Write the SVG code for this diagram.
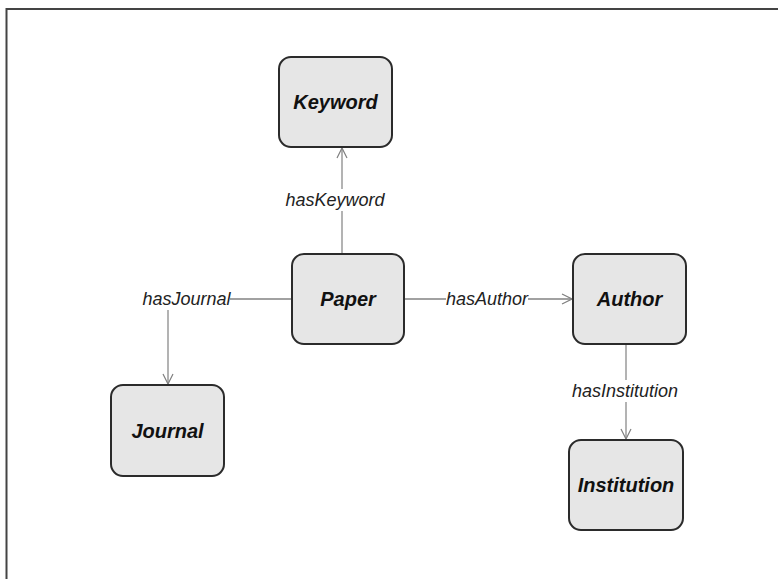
<svg xmlns="http://www.w3.org/2000/svg" width="778" height="579" viewBox="0 0 778 579">
  <style>
    .node rect { fill: #e6e6e6; stroke: #2b2b2b; stroke-width: 2; }
    .node text { font-family: "Liberation Sans", Arial, sans-serif; font-size: 20px; font-weight: bold; font-style: italic; fill: #111; text-anchor: middle; dominant-baseline: central; }
    .edge { fill: none; stroke: #808080; stroke-width: 1.2; }
    .edge.dark { stroke: #444; }
    .label { font-family: "Liberation Sans", Arial, sans-serif; font-size: 18px; font-style: italic; fill: #222; text-anchor: middle; dominant-baseline: central; }
  </style>
  <defs>
    <marker id="open-arrow" viewBox="0 0 12 12" refX="11" refY="6" markerWidth="12" markerHeight="12" markerUnits="userSpaceOnUse" orient="auto">
      <path d="M1,1 L11,6 L1,11" fill="none" stroke="#808080" stroke-width="1.2"/>
    </marker>
  </defs>

  <rect x="0" y="0" width="778" height="579" fill="#ffffff"/>
  <!-- frame: top and left edges -->
  <path d="M6.5,579 V9 H778" fill="none" stroke="#444" stroke-width="2"/>

  <g id="connectors">
    <!-- hasKeyword -->
    <path class="edge" d="M342,254 V211"/>
    <path class="edge" d="M342,189 V148" marker-end="url(#open-arrow)"/>
    <text class="label" x="335" y="200">hasKeyword</text>
    <!-- hasJournal -->
    <path class="edge dark" d="M292,299 H230"/>
    <path class="edge" d="M168,310 V384" marker-end="url(#open-arrow)"/>
    <text class="label" x="186.5" y="299">hasJournal</text>
    <!-- hasAuthor -->
    <path class="edge dark" d="M404,299 H446"/>
    <path class="edge dark" d="M528,299 H572" marker-end="url(#open-arrow)"/>
    <text class="label" x="487" y="299">hasAuthor</text>
    <!-- hasInstitution -->
    <path class="edge" d="M626,344 V380"/>
    <path class="edge" d="M626,402 V439" marker-end="url(#open-arrow)"/>
    <text class="label" x="625" y="391">hasInstitution</text>
  </g>

  <g id="node-keyword" class="node">
    <rect x="279" y="57" width="113" height="90" rx="12"/>
    <text x="335.5" y="102">Keyword</text>
  </g>
  <g id="node-paper" class="node">
    <rect x="292" y="254" width="112" height="90" rx="12"/>
    <text x="348" y="299">Paper</text>
  </g>
  <g id="node-author" class="node">
    <rect x="573" y="254" width="113" height="90" rx="12"/>
    <text x="629.5" y="299">Author</text>
  </g>
  <g id="node-journal" class="node">
    <rect x="111" y="385" width="113" height="91" rx="12"/>
    <text x="167.5" y="430.5">Journal</text>
  </g>
  <g id="node-institution" class="node">
    <rect x="569" y="440" width="114" height="90" rx="12"/>
    <text x="626" y="485">Institution</text>
  </g>
</svg>
